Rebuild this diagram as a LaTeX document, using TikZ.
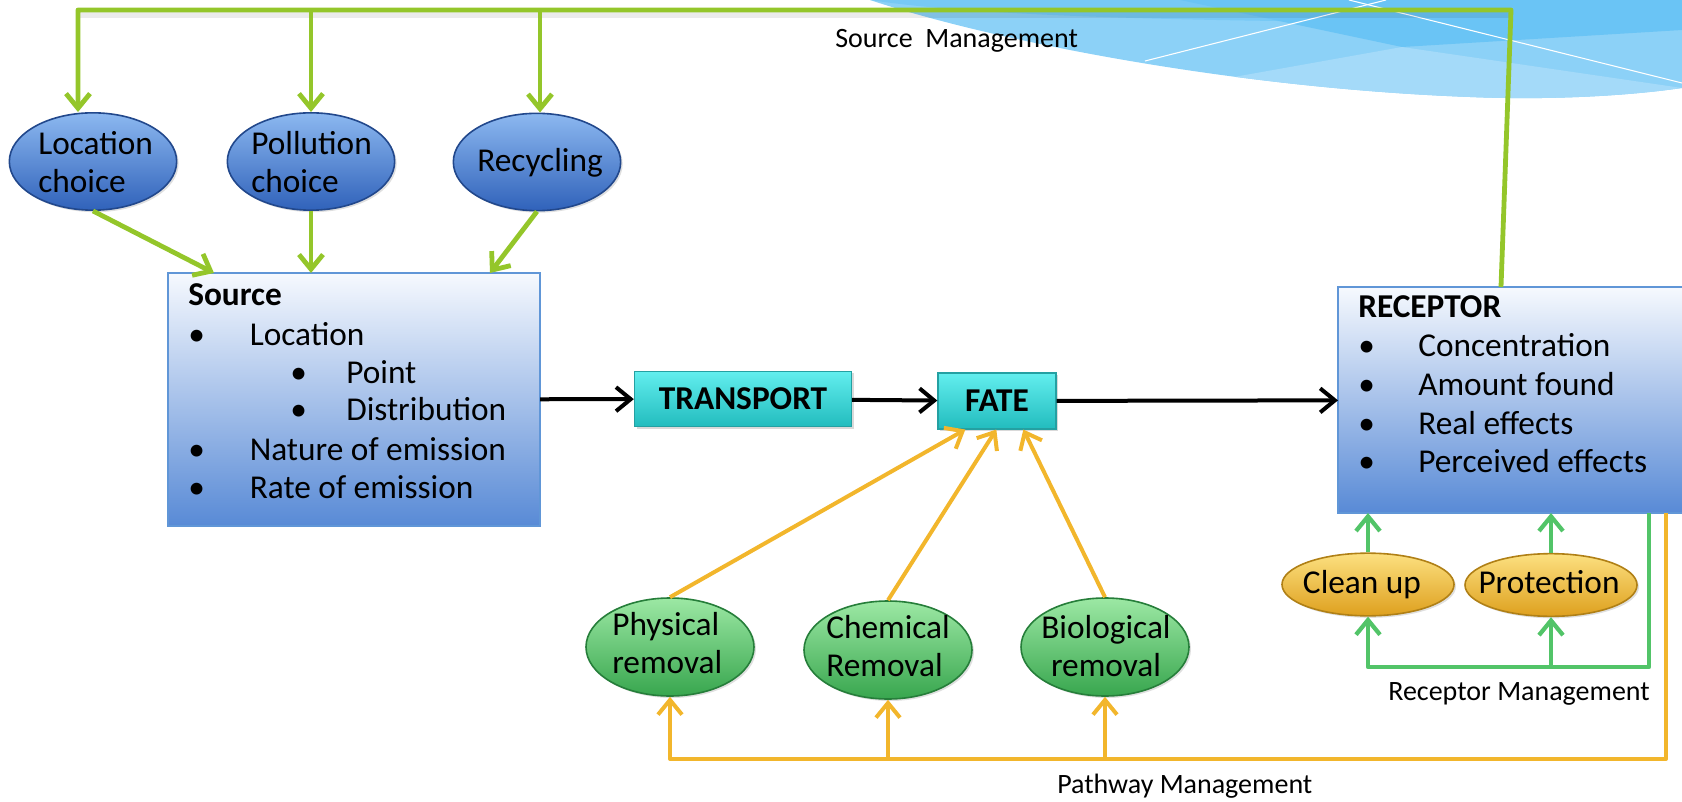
\documentclass[tikz,border=0pt]{standalone}
\usepackage{fontspec}
\setmainfont{Carlito}
\usetikzlibrary{arrows.meta,shapes.geometric,shadows,calc,fit}

% palette
\definecolor{lime}{RGB}{148,198,42}
\definecolor{pathorange}{RGB}{242,182,44}
\definecolor{recgreen}{RGB}{82,196,104}
\definecolor{boxtop}{RGB}{246,249,254}
\definecolor{boxbot}{RGB}{88,138,214}
\definecolor{boxedge}{RGB}{96,150,215}
\definecolor{cyantop}{RGB}{98,238,238}
\definecolor{cyanbot}{RGB}{34,188,190}
\definecolor{cyanedge}{RGB}{36,160,162}
\definecolor{bluetop}{RGB}{140,184,240}
\definecolor{bluebot}{RGB}{48,98,186}
\definecolor{blueedge}{RGB}{34,72,140}
\definecolor{greentop}{RGB}{156,232,164}
\definecolor{greenbot}{RGB}{56,166,78}
\definecolor{greenedge}{RGB}{38,126,58}
\definecolor{goldtop}{RGB}{252,224,128}
\definecolor{goldbot}{RGB}{222,160,30}
\definecolor{goldedge}{RGB}{176,128,22}
\definecolor{decolight}{RGB}{164,218,249}
\definecolor{decomid}{RGB}{140,209,247}
\definecolor{decodark}{RGB}{106,196,245}

\tikzset{
  body/.style={font=\fontsize{25}{30}\selectfont},
  note/.style={font=\fontsize{21}{25}\selectfont, inner sep=0pt, anchor=base west},
  line/.style={body, inner sep=0pt, anchor=base west},
  centreline/.style={body, inner sep=0pt, anchor=base},
  listbox/.style={draw=boxedge, line width=1pt, top color=boxtop, bottom color=boxbot,
    inner sep=0pt, outer sep=0pt},
  cyanbox/.style={draw=cyanedge, line width=1pt, top color=cyantop, bottom color=cyanbot,
    inner sep=0pt, font=\fontsize{25}{30}\selectfont\bfseries,
    drop shadow={opacity=0.3, shadow xshift=1.5pt, shadow yshift=-1.5pt}},
  blueell/.style={ellipse, draw=blueedge, line width=1.2pt, top color=bluetop, bottom color=bluebot,
    minimum width=125.5pt, minimum height=73pt, inner sep=0pt,
    drop shadow={opacity=0.25, shadow xshift=1.5pt, shadow yshift=-1.5pt}},
  greenell/.style={ellipse, draw=greenedge, line width=1.2pt, top color=greentop, bottom color=greenbot,
    minimum width=126pt, minimum height=73.5pt, inner sep=0pt,
    drop shadow={opacity=0.25, shadow xshift=1.5pt, shadow yshift=-1.5pt}},
  goldell/.style={ellipse, draw=goldedge, line width=1.2pt, top color=goldtop, bottom color=goldbot,
    minimum width=129pt, minimum height=47pt, inner sep=0pt,
    drop shadow={opacity=0.25, shadow xshift=1.5pt, shadow yshift=-1.5pt}},
  tipV/.tip={Straight Barb[length=11pt,width=18pt]},
  limeline/.style={draw=lime, line width=3.6pt, line join=round},
  limearrow/.style={limeline, -tipV},
  blackarrow/.style={draw=black, line width=3pt, -tipV},
  orangearrow/.style={draw=pathorange, line width=3pt, line join=round, -tipV},
  greenarrow/.style={draw=recgreen, line width=3.2pt, line join=round, -tipV},
}

\begin{document}
\begin{tikzpicture}[x=0.75pt,y=-0.75pt]
\useasboundingbox (0,0) rectangle (1682,802);
\clip (0,0) rectangle (1682,802);

% sky-blue corner motif
\fill[decomid] (870,0) .. controls (990,40) and (1230,88) .. (1470,97)
  .. controls (1540,100) and (1620,97) .. (1682,88) -- (1682,0) -- cycle;
\begin{scope}
  \clip (870,0) .. controls (990,40) and (1230,88) .. (1470,97)
    .. controls (1540,100) and (1620,97) .. (1682,88) -- (1682,0) -- cycle;
  \fill[decolight] (1150,92) -- (1402,47) -- (1682,88) -- (1682,120) -- (1150,120) -- cycle;
  \fill[decodark] (1180,0) -- (1402,47) -- (1682,30) -- (1682,0) -- cycle;
  \fill[decodark, opacity=0.6] (870,0) -- (1682,0) -- (1682,22) .. controls (1300,24) and (1000,20) .. (870,0) -- cycle;
\end{scope}
\draw[white, line width=0.8pt] (1145,61) -- (1386,0);
\draw[white, line width=0.8pt] (1349,0) -- (1682,83);

% main boxes
\node[listbox, fit={(168,273) (540,526)}] (src) {};
\node[listbox, fit={(1338,287) (1700,513)}] (rec) {};
\node[cyanbox, minimum width=162.75pt, minimum height=41.25pt] (tr) at (743,399) {TRANSPORT};
\node[cyanbox, minimum width=88.5pt, minimum height=41.8pt] (fate) at (997,401) {FATE};

% source management options
\node[blueell] (loc) at (93,161.5) {};
\node[blueell] (pol) at (311,161.5) {};
\node[blueell] (recy) at (537,162) {};
\node[line] (locA) at (38,155) {Location};
\node[line] (locB) at (38,193) {choice};
\node[line] (polA) at (251,155) {Pollution};
\node[line] (polB) at (251,193) {choice};
\node[centreline] (recyA) at (540,172) {Recycling};

% pathway options
\node[greenell] (phy) at (670,647) {};
\node[greenell] (chem) at (888,650) {};
\node[greenell] (bio) at (1105,647) {};
\node[line] (phyA) at (612,635) {Physical};
\node[line] (phyB) at (612,673) {removal};
\node[line] (chemA) at (826,638) {Chemical};
\node[line] (chemB) at (826,676) {Removal};
\node[centreline] (bioA) at (1106,638) {Biological};
\node[centreline] (bioB) at (1106,676) {removal};

% receptor options
\node[goldell] (clean) at (1368,584.5) {};
\node[goldell] (prot) at (1551,585) {};
\node[centreline] (cleanA) at (1362,593) {Clean up};
\node[centreline] (protA) at (1549,593) {Protection};

% source box contents
\node[line, font=\fontsize{25}{30}\selectfont\bfseries] (s0) at (188,306) {Source};
\node[line] (sb1) at (188,345) {•};
\node[line] (s1) at (249.5,345) {Location};
\node[line] (sb2) at (290,383) {•};
\node[line] (s2) at (346,383) {Point};
\node[line] (sb3) at (290,421) {•};
\node[line] (s3) at (346,421) {Distribution};
\node[line] (sb4) at (188,460) {•};
\node[line] (s4) at (249.5,460) {Nature of emission};
\node[line] (sb5) at (188,498) {•};
\node[line] (s5) at (249.5,498) {Rate of emission};

% receptor box contents
\node[line, font=\fontsize{25}{30}\selectfont\bfseries] (r0) at (1358,318) {RECEPTOR};
\node[line] (rb1) at (1358,357) {•};
\node[line] (r1) at (1418,357) {Concentration};
\node[line] (rb2) at (1358,396) {•};
\node[line] (r2) at (1418,396) {Amount found};
\node[line] (rb3) at (1358,434) {•};
\node[line] (r3) at (1418,434) {Real effects};
\node[line] (rb4) at (1358,472) {•};
\node[line] (r4) at (1418,472) {Perceived effects};

% management labels
\node[note] (smL) at (835,48) {Source~ Management};
\node[note] (rmL) at (1388,700) {Receptor Management};
\node[note] (pmL) at (1057,793) {Pathway Management};

% source management loop
\coordinate (sm1) at (78,10);
\coordinate (sm2) at (311,10);
\coordinate (sm3) at (540,10);
\coordinate (smR) at (1511,10);
\draw[black, opacity=0.08, line width=6pt] ($(sm1)+(2,4)$) -- ($(smR)+(2,4)$);
\draw[limearrow] ($(rec.north west)+(163,0)$) -- (smR) -- (sm1) -- (sm1 |- loc.north);
\draw[limearrow] (sm2) -- (pol.north);
\draw[limearrow] (sm3) -- (sm3 |- recy.north);

% options feeding the source
\draw[limearrow] (loc.south) -- ($(src.north west)+(46,0)$);
\draw[limearrow] (pol.south) -- (pol.south |- src.north);
\draw[limearrow] (recy.south) -- ($(src.north east)+(-50,0)$);

% main chain
\draw[blackarrow] (src) -- (tr);
\draw[blackarrow] (tr) -- (fate);
\draw[blackarrow] (fate) -- (rec);

% removal processes acting on fate
\draw[orangearrow] (phy.north) -- ($(fate.south west)+(28,0)$);
\draw[orangearrow] (chem.north) -- ($(fate.south west)+(59,0)$);
\draw[orangearrow] (bio.north) -- ($(fate.south west)+(86,0)$);

% pathway management loop
\coordinate (pwTop) at ($(rec.south west)+(328,0)$);
\coordinate (pwCorner) at (1666,759);
\draw[orangearrow] (pwTop) -- (pwCorner) -- (phy.south |- pwCorner) -- (phy.south);
\draw[orangearrow] (chem.south |- pwCorner) -- (chem.south);
\draw[orangearrow] (bio.south |- pwCorner) -- (bio.south);

% receptor management loop
\coordinate (rmTop) at ($(rec.south west)+(311,0)$);
\coordinate (rmCorner) at (1649,667);
\draw[greenarrow] (rmTop) -- (rmCorner) -- (clean.south |- rmCorner) -- (clean.south);
\draw[greenarrow] (prot.south |- rmCorner) -- (prot.south);
\draw[greenarrow] (clean.north) -- (clean.north |- rec.south);
\draw[greenarrow] (prot.north) -- (prot.north |- rec.south);
\end{tikzpicture}
\end{document}
